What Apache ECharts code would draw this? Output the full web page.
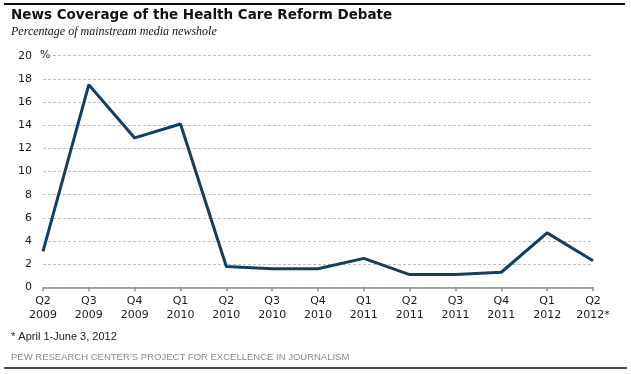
<!DOCTYPE html>
<html><head><meta charset="utf-8">
<script src="https://cdn.jsdelivr.net/npm/echarts@6/dist/echarts.min.js"></script>
<style>html,body{margin:0;padding:0;background:#fff}#c{width:631px;height:374px}</style>
</head><body><div id="c"></div>
<script>
const quarters = ['Q2','Q3','Q4','Q1','Q2','Q3','Q4','Q1','Q2','Q3','Q4','Q1','Q2'];
const years = ['2009','2009','2009','2010','2010','2010','2010','2011','2011','2011','2011','2012','2012*'];
const coverage = [3.1, 17.5, 12.9, 14.1, 1.8, 1.6, 1.6, 2.5, 1.1, 1.1, 1.3, 4.7, 2.3];
const yTicks = [0,2,4,6,8,10,12,14,16,18,20];

const categories = quarters.map((q,i)=>q+'\n'+years[i]);
const chart = echarts.init(document.getElementById('c'));
chart.setOption({
  animation:false,
  backgroundColor:'#fff',
  grid:{left:43, right:38, top:55.7, bottom:86.7, containLabel:false},
  xAxis:{type:'category', data:categories, boundaryGap:false,
    axisLine:{lineStyle:{color:'#8c8c8c', width:1.5}},
    axisTick:{alignWithLabel:true, length:4, lineStyle:{color:'#8c8c8c', width:1.5}},
    axisLabel:{color:'#1a1a1a', fontFamily:'DejaVu Sans', fontSize:11, lineHeight:14, margin:7, interval:0},
    splitLine:{show:false}},
  yAxis:{type:'value', min:yTicks[0], max:yTicks[yTicks.length-1], interval:2,
    axisLine:{show:false}, axisTick:{show:false},
    axisLabel:{color:'#1a1a1a', fontFamily:'DejaVu Sans', fontSize:11, margin:11},
    splitLine:{lineStyle:{color:'#bdbdbd', type:[3,2], width:1}}},
  series:[{type:'line', data:coverage, symbol:'none', lineStyle:{color:'#103f63', width:3}}],
  graphic:[
    {type:'line', shape:{x1:4,y1:4,x2:625,y2:4}, style:{stroke:'#111', lineWidth:2}},
    {type:'text', left:11, top:8, style:{text:'News Coverage of the Health Care Reform Debate', font:'bold 13.5px "DejaVu Sans"', fill:'#111'}},
    {type:'text', left:11, top:26, style:{text:'Percentage of mainstream media newshole', font:'italic 12px "Liberation Serif"', fill:'#111'}},
    {type:'rect', shape:{x:40,y:49,width:11,height:14}, style:{fill:'#fff'}, z:100},
    {type:'text', left:40, top:50, z:101, style:{text:'%', font:'11px "DejaVu Sans"', fill:'#1a1a1a'}},
    {type:'text', left:11, top:331, style:{text:'* April 1-June 3, 2012', font:'11px "Liberation Sans"', fill:'#1a1a1a'}},
    {type:'text', left:11, top:352, style:{text:'PEW RESEARCH CENTER\u2019S PROJECT FOR EXCELLENCE IN JOURNALISM', font:'9.5px "Liberation Sans"', fill:'#8a8a8a'}},
    {type:'line', shape:{x1:4,y1:368,x2:627,y2:368}, style:{stroke:'#111', lineWidth:1.5}}
  ]
});
</script></body></html>
